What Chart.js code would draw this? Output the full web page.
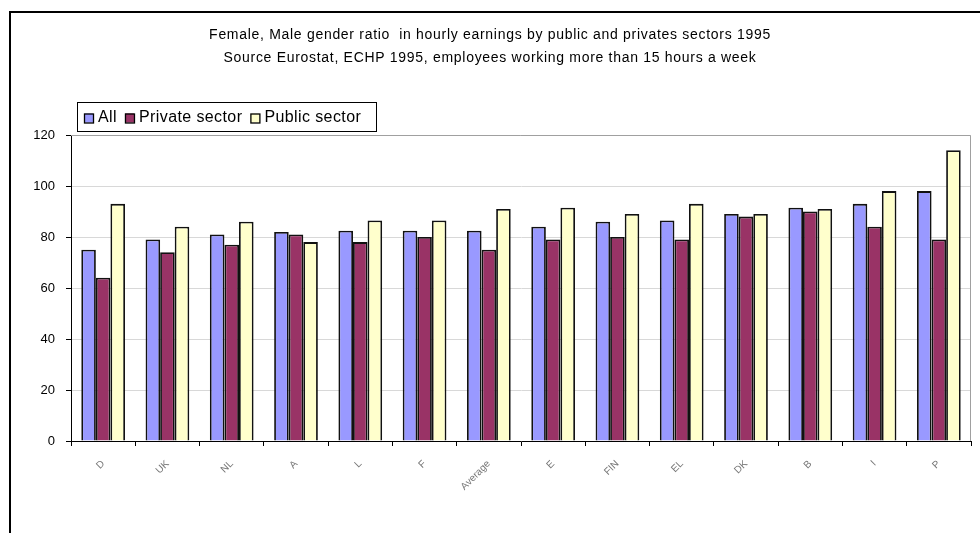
<!DOCTYPE html>
<html>
<head>
<meta charset="utf-8">
<script src="https://cdn.jsdelivr.net/npm/chart.js@4.4.1/dist/chart.umd.min.js"></script>
<style>
html,body{margin:0;padding:0;background:#fff;}
#wrap{position:relative;width:980px;height:533px;}
</style>
</head>
<body>
<div id="wrap"><canvas id="c" width="980" height="533"></canvas></div>
<script>
const categories = ["D","UK","NL","A","L","F","Average","E","FIN","EL","DK","B","I","P"];
const allValues = [75, 79, 81, 82, 82.5, 82.5, 82.5, 84, 86, 86.5, 89, 91.5, 93, 98];
const privateValues = [64, 74, 77, 81, 78, 80, 75, 79, 80, 79, 88, 90, 84, 79];
const publicValues = [93, 84, 86, 78, 86.5, 86.5, 91, 91.5, 89, 93, 89, 91, 98, 114];
const yTicks = [0, 20, 40, 60, 80, 100, 120];
const seriesNames = ["All", "Private sector", "Public sector"];
const titleLines = [
  "Female, Male gender ratio  in hourly earnings by public and privates sectors 1995",
  "Source Eurostat, ECHP 1995, employees working more than 15 hours a week"
];

const colors = ["#9999FF", "#993366", "#FFFFCC"];
const FONT = "'Liberation Sans', Arial, sans-serif";

const decor = {
  id: 'decor',
  afterDraw(chart) {
    const ctx = chart.ctx;
    const a = chart.chartArea;
    ctx.save();
    // outer frame
    ctx.strokeStyle = '#000';
    ctx.lineWidth = 2;
    ctx.beginPath();
    ctx.moveTo(10, 540);
    ctx.lineTo(10, 12);
    ctx.lineTo(990, 12);
    ctx.stroke();
    // plot area top/right border
    ctx.strokeStyle = '#a0a0a0';
    ctx.lineWidth = 1;
    ctx.beginPath();
    ctx.moveTo(a.left, a.top + 0.5);
    ctx.lineTo(a.right - 0.5, a.top + 0.5);
    ctx.lineTo(a.right - 0.5, a.bottom);
    ctx.stroke();
    // title
    ctx.fillStyle = '#000';
    ctx.font = "14px " + FONT;
    ctx.letterSpacing = '0.7px';
    ctx.textAlign = 'center';
    ctx.textBaseline = 'middle';
    ctx.fillText(titleLines[0], 490, 35);
    ctx.fillText(titleLines[1], 490, 58);
    // legend
    const lx = 77, ly = 102, lw = 299, lh = 29;
    ctx.strokeStyle = '#000';
    ctx.lineWidth = 1;
    ctx.fillStyle = '#fff';
    ctx.fillRect(lx, ly, lw, lh);
    ctx.strokeRect(lx + 0.5, ly + 0.5, lw, lh);
    ctx.font = "16px " + FONT;
    ctx.letterSpacing = '0.4px';
    ctx.textAlign = 'left';
    let x = lx + 7;
    const cy = ly + lh / 2 + 1;
    chart.data.datasets.forEach((ds, i) => {
      ctx.fillStyle = ds.backgroundColor;
      ctx.fillRect(x, cy - 4, 9, 9);
      ctx.strokeStyle = '#000';
      ctx.lineWidth = 1.3;
      ctx.strokeRect(x + 0.5, cy - 3.5, 9, 9);
      x += 14;
      ctx.fillStyle = '#000';
      ctx.fillText(ds.label, x, cy);
      x += ctx.measureText(ds.label).width + 8;
    });
    ctx.restore();
  }
};

new Chart(document.getElementById('c'), {
  type: 'bar',
  data: {
    labels: categories,
    datasets: [
      { label: seriesNames[0], data: allValues, backgroundColor: colors[0] },
      { label: seriesNames[1], data: privateValues, backgroundColor: colors[1] },
      { label: seriesNames[2], data: publicValues, backgroundColor: colors[2] }
    ].map(d => Object.assign(d, { borderColor: '#111', borderWidth: 1.8, borderSkipped: 'bottom' }))
  },
  options: {
    responsive: false,
    animation: false,
    devicePixelRatio: 1,
    layout: { padding: { left: 10, right: 9, top: 135, bottom: 0 } },
    datasets: { bar: { categoryPercentage: 0.68, barPercentage: 1 } },
    plugins: { legend: { display: false }, title: { display: false }, tooltip: { enabled: false } },
    scales: {
      x: {
        afterFit(s) { s.height = 92; },
        grid: { drawOnChartArea: false, tickLength: 5, tickColor: '#000', offset: true },
        border: { color: '#000', width: 1 },
        ticks: { minRotation: 45, maxRotation: 45, color: '#777', font: { family: FONT, size: 10 }, padding: 12 }
      },
      y: {
        min: 0, max: 120,
        afterFit(s) { s.width = 61; },
        afterBuildTicks(s) { s.ticks = yTicks.map(v => ({ value: v })); },
        grid: { color: '#d8d8d8', tickLength: 5, tickColor: '#000' },
        border: { color: '#000', width: 1 },
        ticks: { color: '#000', font: { family: FONT, size: 13 }, padding: 11 }
      }
    }
  },
  plugins: [decor]
});
</script>
</body>
</html>
